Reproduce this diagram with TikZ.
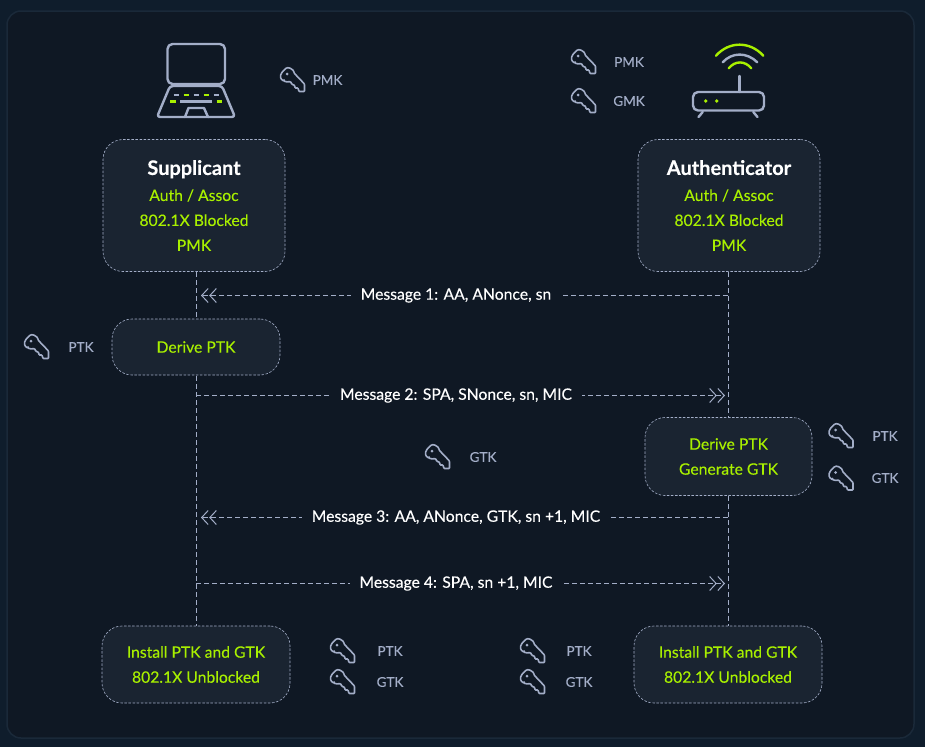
\documentclass[tikz,border=0pt]{standalone}
\usepackage{fontspec}
\setmainfont{Lato}[FakeBold=0.2]
\usetikzlibrary{arrows.meta,calc}
\definecolor{pagebg}{HTML}{0F1D2C}
\definecolor{panelbg}{HTML}{0F1824}
\definecolor{panelline}{HTML}{1A2939}
\definecolor{boxbg}{HTML}{1A2431}
\definecolor{linegray}{HTML}{A3AEC8}
\definecolor{limegreen}{HTML}{A8F000}
\tikzset{
    stagebox/.style={draw=linegray,dash pattern=on 2.5pt off 1.6pt,line width=0.6pt,fill=boxbg,rounded corners=20pt,align=center,inner sep=0pt,text=limegreen,font=\fontsize{15.7}{25}\selectfont},
    lifeline/.style={draw=linegray,dash pattern=on 5pt off 3pt,line width=0.8pt},
    msgline/.style={draw=linegray,dash pattern=on 5pt off 3pt,line width=0.8pt,-{Butt Cap[sep=5pt]Straight Barb[length=6.5pt,width=14pt,line width=1pt,sep=0.5pt]Straight Barb[length=6.5pt,width=14pt,line width=1pt]}},
    msglabel/.style={fill=panelbg,text=white,font=\fontsize{15.7}{18}\selectfont,inner xsep=10pt,inner ysep=2pt},
    keylabel/.style={text=linegray,font=\fontsize{13.5}{16}\selectfont,inner sep=0pt},
    icon/.style={draw=linegray,line width=2.4pt,line cap=round,line join=round},
    iconlime/.style={draw=limegreen,line width=2.4pt,line cap=round},
    keyicon/.pic={
        \draw[draw=linegray,line width=1.6pt,rounded corners=0.8pt] (-8,1) .. controls (-11.5,-0.5) and (-12.5,-4) .. (-10,-7.5) .. controls (-8,-10.5) and (-5,-13.5) .. (-1.5,-11.5) .. controls (0.5,-10.5) and (2,-9) .. (2,-7)--(12.5,4)--(12.5,11.5)--(7,11.5)--(6,8)--(3,8)--(2.5,5)--(0,4.5)--(-1.5,1.5) .. controls (-4,2) and (-6,2) .. cycle;
        \fill[linegray] (-5,-6) circle (1.5);
    },
}
\begin{document}
\begin{tikzpicture}[x=1pt,y=-1pt]
    \fill[pagebg] (0,0) rectangle (925,747);
    \draw[panelline,fill=panelbg,line width=1.5pt,rounded corners=14pt] (7,11) rectangle (914,738);
    % lifelines first, boxes go on top
    \coordinate (supTop) at (196,272);
    \coordinate (supEnd) at (196,626);
    \coordinate (autTop) at (728,272);
    \coordinate (autEnd) at (728,626);
    \draw[lifeline] (supTop)--(supEnd);
    \draw[lifeline] (autTop)--(autEnd);
    % laptop
    \draw[icon,rounded corners=5pt] (167.5,44) rectangle (225,84);
    \draw[icon,rounded corners=3pt] (170,86)--(222,86)--(235,117)--(157,117)--cycle;
    \draw[icon] (185,117)--(188.5,108)--(204,108)--(208,117);
    \draw[icon,line cap=butt] (173.5,94.7)--(179,94.7) (193.5,94.7)--(199,94.7) (213.5,94.7)--(219,94.7) (180,101.3)--(212,101.3);
    \draw[iconlime,line cap=butt] (183.5,94.7)--(189,94.7) (203.5,94.7)--(209,94.7) (170,101.3)--(175.5,101.3) (216.5,101.3)--(222,101.3);
    % router
    \draw[icon,rounded corners=5pt] (693,92) rectangle (764,110.5);
    \draw[icon] (739.5,76)--(739.5,92);
    \draw[icon] (702.7,112)--(698.5,117);
    \draw[icon] (753.3,112)--(757.5,117);
    \fill[limegreen] (705.7,101) circle (1.8) (716.7,101) circle (1.8);
    \draw[iconlime] (716,55.7) .. controls (729,41) and (750,41) .. (763.3,55.7);
    \draw[icon] (722.7,62.3) .. controls (732,52) and (747,52) .. (757.3,62.3);
    \draw[iconlime] (728.7,68.3) .. controls (735,60.5) and (745,60.5) .. (751.3,68.3);
    % stage boxes
    \node[stagebox,minimum width=182pt,minimum height=132pt] (supplicant) at (194,205.5) {{\fontsize{20}{28}\selectfont\bfseries\textcolor{white}{Supplicant}}\\[1pt]Auth / Assoc\\802.1X Blocked\\PMK};
    \node[stagebox,minimum width=182pt,minimum height=132pt] (authenticator) at (729,205.5) {{\fontsize{20}{28}\selectfont\bfseries\textcolor{white}{Authenticator}}\\[1pt]Auth / Assoc\\802.1X Blocked\\PMK};
    \node[stagebox,minimum width=168pt,minimum height=56pt] (derivesup) at (196,347) {Derive PTK};
    \node[stagebox,minimum width=167pt,minimum height=78pt] (deriveaut) at (728.5,456.5) {Derive PTK\\Generate GTK};
    \node[stagebox,minimum width=188pt,minimum height=77pt] (installsup) at (196,664.5) {Install PTK and GTK\\802.1X Unblocked};
    \node[stagebox,minimum width=188pt,minimum height=77pt] (installaut) at (728,664.5) {Install PTK and GTK\\802.1X Unblocked};
    % messages
    \coordinate (m1a) at (728,295.5);
    \coordinate (m1b) at (201,295.5);
    \coordinate (m2a) at (196,395.5);
    \coordinate (m2b) at (725,395.5);
    \coordinate (m3a) at (728,517.5);
    \coordinate (m3b) at (201,517.5);
    \coordinate (m4a) at (196,583.5);
    \coordinate (m4b) at (725,583.5);
    \draw[msgline] (m1a)--(m1b);
    \draw[msgline] (m2a)--(m2b);
    \draw[msgline] (m3a)--(m3b);
    \draw[msgline] (m4a)--(m4b);
    \node[msglabel] (msg1) at (456,295.5) {Message 1: AA, ANonce, sn};
    \node[msglabel] (msg2) at (456,395.5) {Message 2: SPA, SNonce, sn, MIC};
    \node[msglabel] (msg3) at (456,517.5) {Message 3: AA, ANonce, GTK, sn +1, MIC};
    \node[msglabel] (msg4) at (456,583.5) {Message 4: SPA, sn +1, MIC};
    % keys
    \pic at (292,80) {keyicon};
    \node[keylabel] (pmksup) at (327.5,80) {PMK};
    \pic at (583,62) {keyicon};
    \node[keylabel] (pmkaut) at (629,62) {PMK};
    \pic at (583,101) {keyicon};
    \node[keylabel] (gmkaut) at (629,101) {GMK};
    \pic at (36,347) {keyicon};
    \node[keylabel] (ptksup) at (81,347) {PTK};
    \pic at (437,457) {keyicon};
    \node[keylabel] (gtkmid) at (483,457) {GTK};
    \pic at (840.5,436) {keyicon};
    \node[keylabel] (ptkaut) at (885,436) {PTK};
    \pic at (840.5,478.5) {keyicon};
    \node[keylabel] (gtkaut) at (885,478) {GTK};
    \pic at (342,651) {keyicon};
    \node[keylabel] (ptkinsa) at (390,651) {PTK};
    \pic at (342,682) {keyicon};
    \node[keylabel] (gtkinsa) at (390,682) {GTK};
    \pic at (532,651) {keyicon};
    \node[keylabel] (ptkinsb) at (579,651) {PTK};
    \pic at (532,682) {keyicon};
    \node[keylabel] (gtkinsb) at (579,682) {GTK};
\end{tikzpicture}
\end{document}
